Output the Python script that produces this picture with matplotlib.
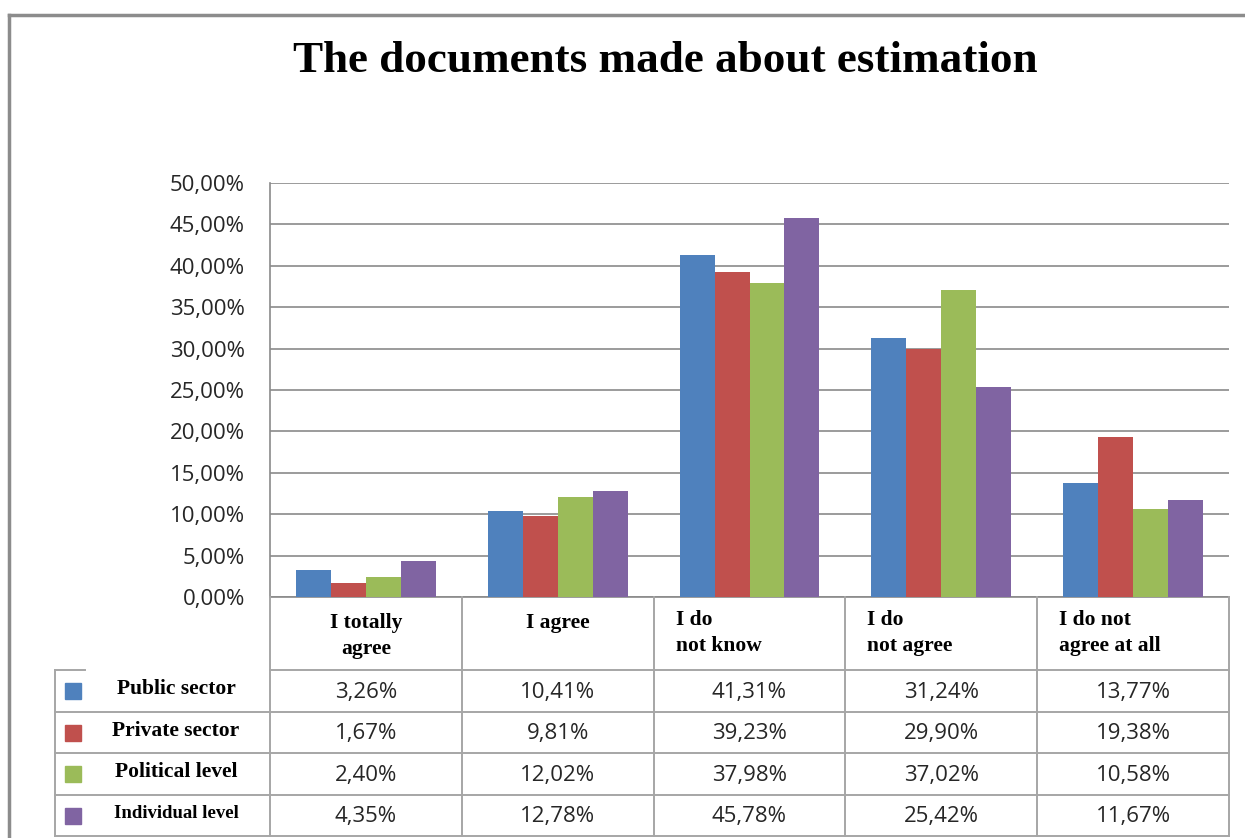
import numpy as np
import matplotlib
matplotlib.use("Agg")
import matplotlib.pyplot as plt
from matplotlib.lines import Line2D
from matplotlib.patches import Rectangle
from matplotlib.ticker import MultipleLocator, FuncFormatter

# data (percent)
categories = ["I totally\nagree", "I agree", "I do\nnot know", "I do\nnot agree", "I do not\nagree at all"]
series_names = ["Public sector", "Private sector", "Political level", "Individual level"]
public_sector = [3.26, 10.41, 41.31, 31.24, 13.77]
private_sector = [1.67, 9.81, 39.23, 29.90, 19.38]
political_level = [2.40, 12.02, 37.98, 37.02, 10.58]
individual_level = [4.35, 12.78, 45.78, 25.42, 11.67]
series_values = [public_sector, private_sector, political_level, individual_level]
colors = ["#4F81BD", "#C0504D", "#9BBB59", "#8064A2"]

W, H = 1245, 838
fig = plt.figure(figsize=(W / 100, H / 100), dpi=100)


def fx(x):
    return x / W


def fy(y):
    return 1 - y / H


# plot area in pixel terms
left, right, top, bottom = 270, 1229, 183, 597
ax = fig.add_axes([fx(left), fy(bottom), fx(right - left), (bottom - top) / H])

n = len(categories)
x = np.arange(n)
bw = 0.182
for i, (vals, c) in enumerate(zip(series_values, colors)):
    ax.bar(x + (i - 1.5) * bw, vals, width=bw, color=c, zorder=3)

ax.set_xlim(-0.5, n - 0.5)
ax.set_ylim(0, 50)
ax.yaxis.set_major_locator(MultipleLocator(5))
ax.yaxis.set_major_formatter(FuncFormatter(lambda v, p: f"{v:.2f}%".replace(".", ",")))
ax.grid(axis="y", color="#8a8a8a", linewidth=1.2, zorder=0)
ax.set_xticks([])
ax.tick_params(axis="y", length=0, pad=18, labelsize=16, labelcolor="#262626")
for lab in ax.get_yticklabels():
    lab.set_fontfamily("Open Sans")
for s in ["top", "right"]:
    ax.spines[s].set_visible(False)
ax.spines["left"].set_color("#8a8a8a")
ax.spines["left"].set_linewidth(1.2)
ax.spines["bottom"].set_color("#8a8a8a")
ax.spines["bottom"].set_linewidth(1.2)

# title
fig.text(fx(665), fy(61), "The documents made about estimation", ha="center", va="center",
         fontsize=32.5, fontweight="bold", family="Liberation Serif")

# outer chart frame (top and left edges visible)
fig.add_artist(Line2D([fx(9), fx(1245)], [fy(15), fy(15)], color="#8c8c8c", linewidth=2.5))
fig.add_artist(Line2D([fx(9), fx(9)], [fy(15), fy(838)], color="#8c8c8c", linewidth=2.5))

# data table below the plot
lc = "#a6a6a6"
lw = 1.4
col_w = (right - left) / n
col_edges = [left + k * col_w for k in range(n + 1)]
row_edges = [597, 670, 712, 753, 795, 836]
leg_left = 55


def hline(y, x0, x1):
    fig.add_artist(Line2D([fx(x0), fx(x1)], [fy(y), fy(y)], color=lc, linewidth=lw))


def vline(xp, y0, y1):
    fig.add_artist(Line2D([fx(xp), fx(xp)], [fy(y0), fy(y1)], color=lc, linewidth=lw))


for k, yy in enumerate(row_edges):
    if k == 0:
        continue
    if k == 1:
        hline(yy, leg_left, 85)
        hline(yy, left, right)
    else:
        hline(yy, leg_left, right)
for xp in col_edges:
    vline(xp, row_edges[0], row_edges[-1])
vline(leg_left, row_edges[1], row_edges[-1])

# header labels
for j, cat in enumerate(categories):
    if j < 2:
        fig.text(fx(col_edges[j] + col_w / 2), fy(613), cat, ha="center", va="top",
                 fontsize=15.5, fontweight="bold", family="Liberation Serif", linespacing=1.4)
    else:
        fig.text(fx(col_edges[j] + 22), fy(610), cat, ha="left", va="top",
                 fontsize=15.5, fontweight="bold", family="Liberation Serif", linespacing=1.4)

# legend column and values
for i, name in enumerate(series_names):
    yc = (row_edges[i + 1] + row_edges[i + 2]) / 2
    fig.add_artist(Rectangle((fx(65), fy(yc + 8)), 16 / W, 16 / H, color=colors[i]))
    fs = 13.5 if i == 3 else 15.5
    fig.text(fx(176), fy(yc - 2), name, ha="center", va="center", fontsize=fs,
             fontweight="bold", family="Liberation Serif")
    for j, v in enumerate(series_values[i]):
        fig.text(fx(col_edges[j] + col_w / 2), fy(yc + 1), f"{v:.2f}%".replace(".", ","),
                 ha="center", va="center", fontsize=16, color="#262626", family="Open Sans")

fig.savefig("out.png", dpi=100)
